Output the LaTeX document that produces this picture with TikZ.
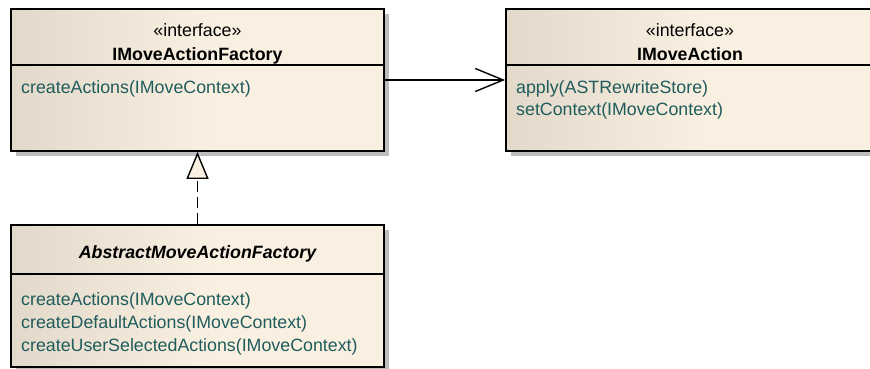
\documentclass[tikz,border=0pt]{standalone}
\usepackage{fontspec}
\setmainfont{Liberation Sans}
\usetikzlibrary{arrows.meta,shadows}

\definecolor{creamdark}{HTML}{E2D9CA}
\definecolor{creamlight}{HTML}{FAF0E2}
\definecolor{opcolor}{HTML}{1F5C5C}
\definecolor{shadowgray}{HTML}{BDBDBD}

% class box fill: darker on the left, fading to cream by the middle
\pgfdeclarehorizontalshading{classfill}{100bp}{%
  color(0bp)=(creamdark); color(25bp)=(creamdark);
  color(52bp)=(creamlight); color(100bp)=(creamlight)}

\tikzset{
  umlclass/.style={draw=black, line width=1.8pt, shading=classfill,
    minimum width=373pt, minimum height=142pt, inner sep=0pt,
    drop shadow={shadow xshift=5pt, shadow yshift=-5pt,
                 fill=shadowgray, opacity=1}},
  txt/.style={font=\fontsize{17.8}{21}\selectfont, inner sep=0pt},
  stereo/.style={txt, anchor=base},
  classname/.style={txt, anchor=base, font=\fontsize{17.8}{21}\selectfont\bfseries},
  op/.style={txt, anchor=base west, text=opcolor},
  sep/.style={line width=1.2pt},
  assoc/.style={line width=1.4pt, -{Straight Barb[length=28pt,width=23pt,line width=1.4pt]}},
  realize/.style={line width=1.6pt, dash pattern=on 11pt off 5pt,
    -{Triangle[length=27pt,width=22pt,line width=1.4pt,fill=creamlight]}}
}

\begin{document}
\begin{tikzpicture}[x=1pt, y=-1pt]
\useasboundingbox (0,0) rectangle (870,369);

% boxes
\node[umlclass] (factory)  at (197.5,80) {};
\node[umlclass, minimum width=368pt] (action) at (690,80) {};
\node[umlclass] (abstract) at (197.5,296) {};

% compartment separators
\draw[sep] (11,65) -- (384,65);
\draw[sep] (506,65) -- (874,65);
\draw[sep] (11,274) -- (384,274);

% IMoveActionFactory
\node[stereo] (fstereo) at (197.5,36.5) {«interface»};
\node[classname] (fname) at (197.5,60) {IMoveActionFactory};
\node[op] (fop1) at (21,93) {createActions(IMoveContext)};

% IMoveAction
\node[stereo] (astereo) at (690,36.5) {«interface»};
\node[classname] (aname) at (690,60) {IMoveAction};
\node[op] (aop1) at (516,93) {apply(ASTRewriteStore)};
\node[op] (aop2) at (516,115.5) {setContext(IMoveContext)};

% AbstractMoveActionFactory
\node[classname, font=\fontsize{17.8}{21}\selectfont\bfseries\itshape] (bname) at (197.5,258) {AbstractMoveActionFactory};
\node[op] (bop1) at (21,305) {createActions(IMoveContext)};
\node[op] (bop2) at (21,328) {createDefaultActions(IMoveContext)};
\node[op] (bop3) at (21,351) {createUserSelectedActions(IMoveContext)};

% relations
\draw[assoc] (factory.east) -- (action.west);
\draw[realize] (abstract.north) -- (factory.south);
\end{tikzpicture}
\end{document}
